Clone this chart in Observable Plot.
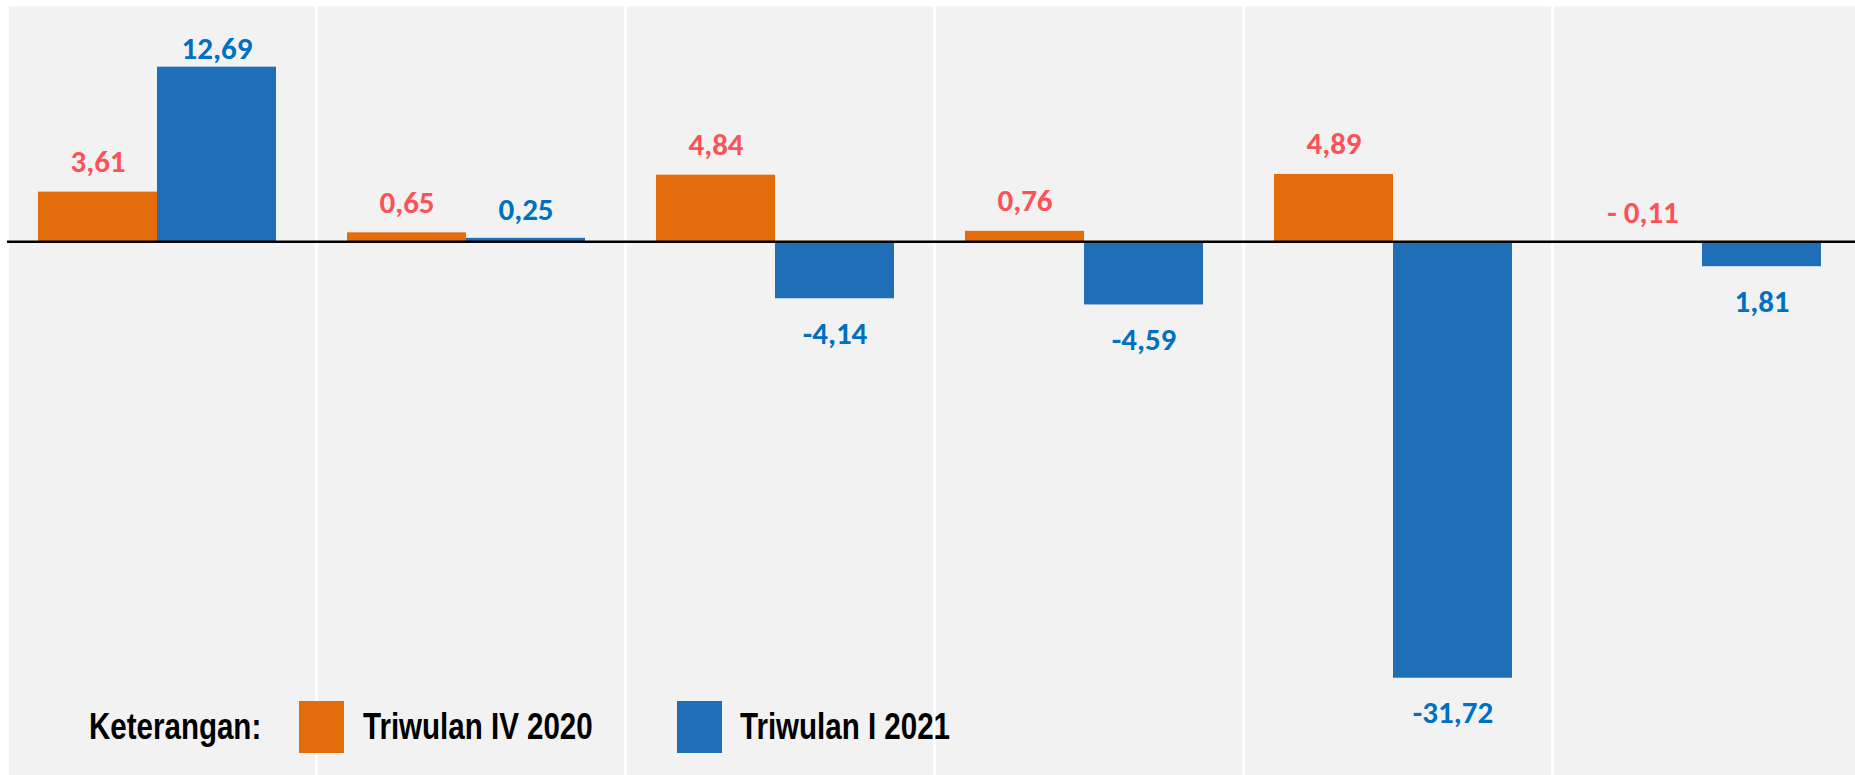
<!DOCTYPE html>
<html>
<head>
<meta charset="utf-8">
<script src="https://cdn.jsdelivr.net/npm/d3@7"></script>
<script src="https://cdn.jsdelivr.net/npm/@observablehq/plot@0.6"></script>
<style>
  html, body { margin: 0; padding: 0; background: #ffffff; }
  #wrap { position: relative; width: 1855px; height: 775px; overflow: hidden; }
  .lg-text {
    position: absolute; top: 701px; height: 52px; line-height: 52px;
    font-family: "Liberation Sans", Arial, sans-serif; font-weight: bold; font-size: 36px;
    color: #000; white-space: nowrap; transform: scaleX(0.82); transform-origin: left center;
  }
  .lg-box { position: absolute; top: 701px; width: 45px; height: 52px; }
</style>
</head>
<body>
<div id="wrap"></div>
<script>
// ---- data ----
const categories = ["Kelompok 1", "Kelompok 2", "Kelompok 3", "Kelompok 4", "Kelompok 5", "Kelompok 6"];
const series = ["Triwulan IV 2020", "Triwulan I 2021"];
const valuesIV2020 = [3.61, 0.65, 4.84, 0.76, 4.89, -0.11];
const valuesI2021 = [12.69, 0.25, -4.14, -4.59, -31.72, -1.81];
const labelsIV2020 = ["3,61", "0,65", "4,84", "0,76", "4,89", "- 0,11"];
const labelsI2021 = ["12,69", "0,25", "-4,14", "-4,59", "-31,72", "1,81"];
const legendTitle = "Keterangan:";

const orange = "#e46c0a";
const blue = "#1e6fb7";
const orangeLabel = "#fb5257";
const blueLabel = "#0070c0";

const rows = [];
categories.forEach((c, i) => {
  rows.push({category: c, series: series[0], value: valuesIV2020[i], label: labelsIV2020[i]});
  rows.push({category: c, series: series[1], value: valuesI2021[i], label: labelsI2021[i]});
});

const labelFont = {fontFamily: "Carlito, Lato, sans-serif", fontWeight: "bold", fontSize: 31};

const chart = Plot.plot({
  width: 1855,
  height: 775,
  marginLeft: 5,
  marginRight: -8,
  marginTop: 6,
  marginBottom: 0,
  style: {background: "#ffffff", overflow: "hidden"},
  fx: {domain: categories, padding: 0, axis: null},
  x: {domain: series, paddingInner: 0, paddingOuter: 0.294, align: 0.44, axis: null},
  y: {domain: [-38.79, 17.10], axis: null},
  color: {domain: series, range: [orange, blue]},
  marks: [
    Plot.frame({fill: "#f2f2f2", stroke: "none", insetBottom: -5}),
    Plot.barY(rows, {fx: "category", x: "series", y: "value", fill: "series"}),
    Plot.frame({stroke: "#ffffff", strokeWidth: 3, insetTop: -5, insetBottom: -5}),
    Plot.ruleY([0], {stroke: "#000000", strokeWidth: 2.5}),
    Plot.text(rows.filter(d => d.series === series[0]), {
      fx: "category", x: "series", y: "value", text: "label", dy: -30, fill: orangeLabel, ...labelFont
    }),
    Plot.text(rows.filter(d => d.series === series[1] && d.value > 10), {
      fx: "category", x: "series", y: "value", text: "label", dy: -18, fill: blueLabel, ...labelFont
    }),
    Plot.text(rows.filter(d => d.series === series[1] && d.value > 0 && d.value <= 10), {
      fx: "category", x: "series", y: "value", text: "label", dy: -28, fill: blueLabel, ...labelFont
    }),
    Plot.text(rows.filter(d => d.series === series[1] && d.value < 0), {
      fx: "category", x: "series", y: "value", text: "label", dy: 35, fill: blueLabel, ...labelFont
    })
  ]
});

const wrap = document.getElementById("wrap");
wrap.appendChild(chart);

// legend overlay
function addText(txt, left) {
  const s = document.createElement("div");
  s.className = "lg-text";
  s.style.left = left + "px";
  s.textContent = txt;
  wrap.appendChild(s);
}
function addBox(color, left) {
  const b = document.createElement("div");
  b.className = "lg-box";
  b.style.left = left + "px";
  b.style.background = color;
  wrap.appendChild(b);
}
addText(legendTitle, 89);
addBox(orange, 299);
addText(series[0], 363);
addBox(blue, 677);
addText(series[1], 740);
</script>
</body>
</html>
